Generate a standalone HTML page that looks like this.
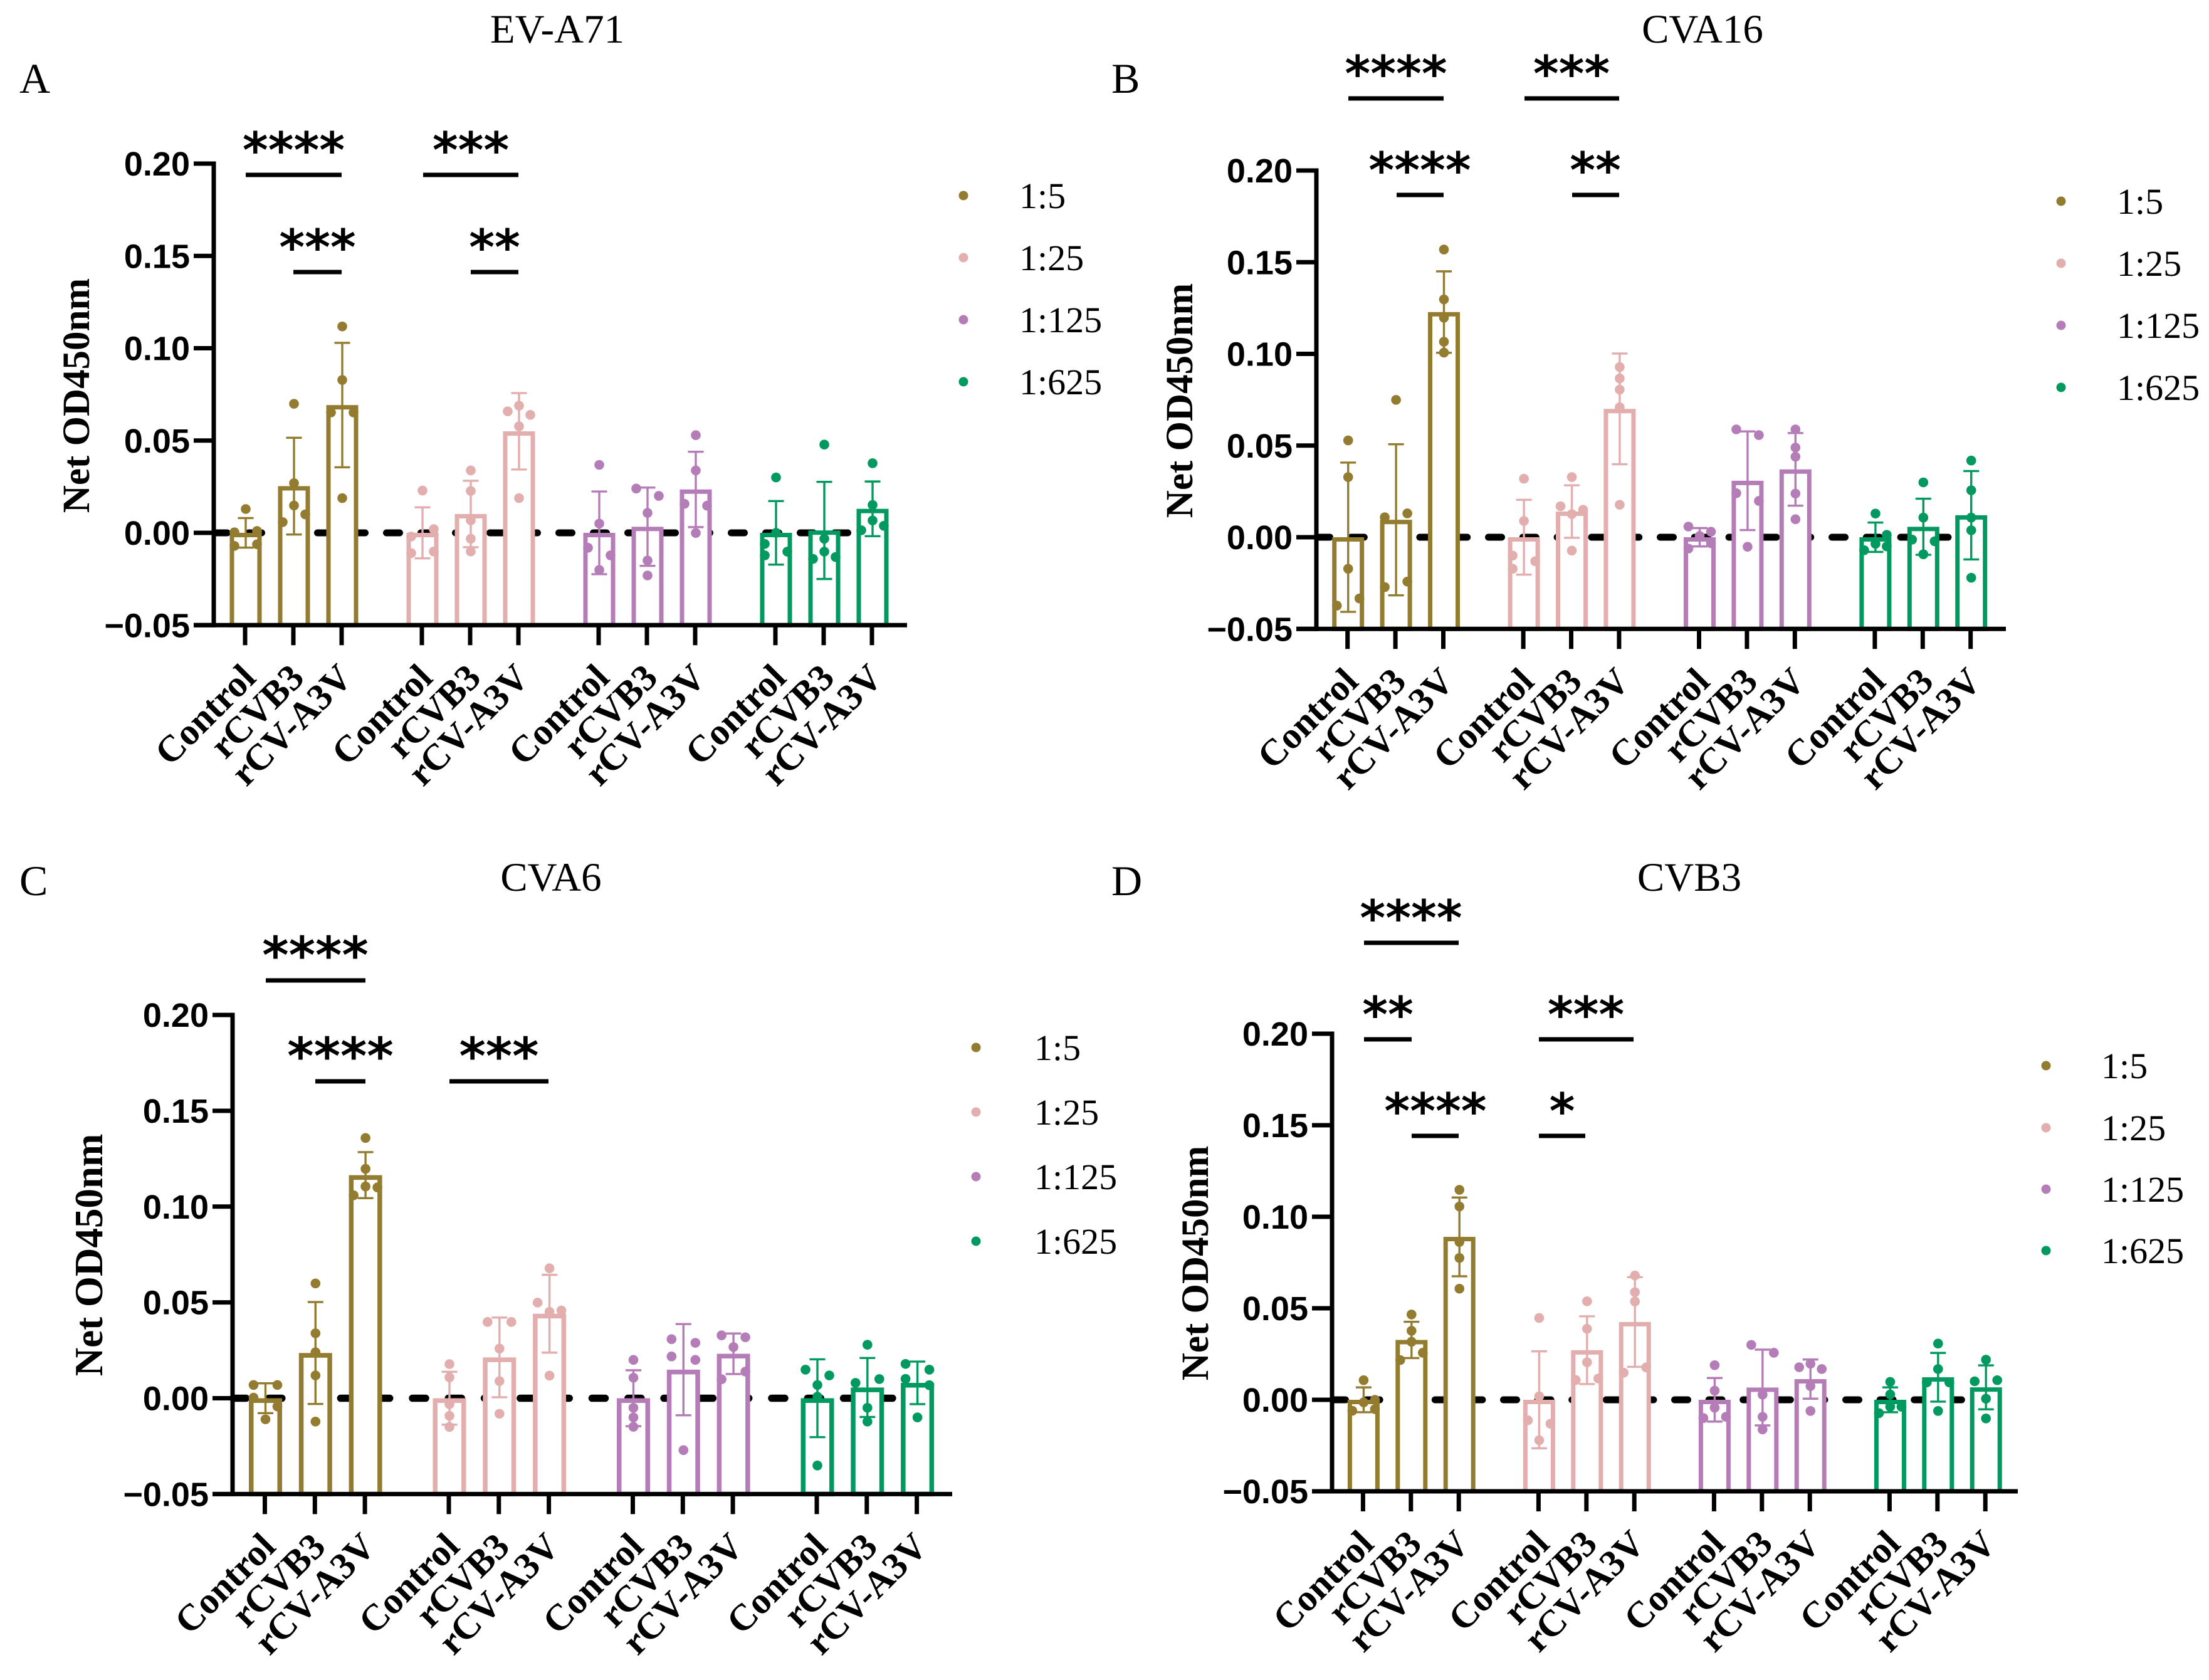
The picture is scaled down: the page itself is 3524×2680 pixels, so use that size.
<!DOCTYPE html>
<html lang="en">
<head>
<meta charset="utf-8">
<title>Net OD450nm by virus strain</title>
<style>
html,body{margin:0;padding:0;background:#fff;}
svg{display:block;}
.ttl{font-family:"Liberation Serif",serif;font-size:65px;text-anchor:middle;fill:#000;}
.ltr{font-family:"Liberation Serif",serif;font-size:68px;fill:#000;}
.yt{font-family:"Liberation Serif",serif;font-weight:bold;font-size:61px;text-anchor:middle;fill:#000;}
.lg{font-family:"Liberation Serif",serif;font-size:58px;fill:#000;}
.st{font-family:"DejaVu Sans",sans-serif;font-weight:bold;font-size:78px;text-anchor:middle;fill:#000;}
.sl{stroke:#000;stroke-width:7;}
.tk{font-family:"Liberation Sans",sans-serif;font-weight:bold;font-size:54px;text-anchor:end;fill:#000;}
.xl{font-family:"Liberation Serif",serif;font-weight:bold;font-size:59.5px;text-anchor:end;fill:#000;}
</style>
</head>
<body>
<svg id="chart" xmlns="http://www.w3.org/2000/svg" width="3524" height="2680" viewBox="0 0 3524 2680">
<rect x="0" y="0" width="3524" height="2680" fill="#fff"/>

<g id="panel-a">
<text class="ttl" x="889" y="68">EV-A71</text>
<text class="ltr" x="31" y="148">A</text>
<text class="yt" transform="translate(142,631) rotate(-90)">Net OD450nm</text>
<line class="sl" x1="392" x2="545" y1="279" y2="279"/><text class="st" x="468.5" y="267">****</text>
<line class="sl" x1="468" x2="545" y1="434" y2="434"/><text class="st" x="506.5" y="422">***</text>
<line class="sl" x1="675" x2="827" y1="279" y2="279"/><text class="st" x="751" y="267">***</text>
<line class="sl" x1="751" x2="827" y1="434" y2="434"/><text class="st" x="789" y="422">**</text>
<g>
<circle cx="1537" cy="312" r="7.5" fill="#937c2f"/><text class="lg" x="1626" y="332">1:5</text>
<circle cx="1537" cy="411" r="7.5" fill="#e3aeae"/><text class="lg" x="1626" y="431">1:25</text>
<circle cx="1537" cy="510" r="7.5" fill="#b57db8"/><text class="lg" x="1626" y="530">1:125</text>
<circle cx="1537" cy="609" r="7.5" fill="#00995f"/><text class="lg" x="1626" y="629">1:625</text>
</g>
</g>

<g id="panel-b">
<text class="ttl" x="2716" y="68">CVA16</text>
<text class="ltr" x="1773" y="148">B</text>
<text class="yt" transform="translate(1902,639) rotate(-90)">Net OD450nm</text>
<line class="sl" x1="2151" x2="2303" y1="157" y2="157"/><text class="st" x="2227" y="145">****</text>
<line class="sl" x1="2228" x2="2303" y1="311" y2="311"/><text class="st" x="2265" y="299">****</text>
<line class="sl" x1="2432" x2="2583" y1="157" y2="157"/><text class="st" x="2507" y="145">***</text>
<line class="sl" x1="2508" x2="2583" y1="311" y2="311"/><text class="st" x="2545" y="299">**</text>
<g>
<circle cx="3288" cy="321" r="7.5" fill="#937c2f"/><text class="lg" x="3377" y="341">1:5</text>
<circle cx="3288" cy="420" r="7.5" fill="#e3aeae"/><text class="lg" x="3377" y="440">1:25</text>
<circle cx="3288" cy="519" r="7.5" fill="#b57db8"/><text class="lg" x="3377" y="539">1:125</text>
<circle cx="3288" cy="618" r="7.5" fill="#00995f"/><text class="lg" x="3377" y="638">1:625</text>
</g>
</g>

<g id="panel-c">
<text class="ttl" x="879" y="1421">CVA6</text>
<text class="ltr" x="31" y="1428">C</text>
<text class="yt" style="font-size:63px" transform="translate(163,2002) rotate(-90)">Net OD450nm</text>
<line class="sl" x1="424" x2="583" y1="1564" y2="1564"/><text class="st" style="font-size:81px" x="503" y="1552">****</text>
<line class="sl" x1="503" x2="583" y1="1725" y2="1725"/><text class="st" style="font-size:81px" x="543" y="1713">****</text>
<line class="sl" x1="717" x2="875" y1="1725" y2="1725"/><text class="st" style="font-size:81px" x="796" y="1713">***</text>
<g>
<circle cx="1557" cy="1671" r="7.5" fill="#937c2f"/><text class="lg" x="1650" y="1691">1:5</text>
<circle cx="1557" cy="1774" r="7.5" fill="#e3aeae"/><text class="lg" x="1650" y="1794">1:25</text>
<circle cx="1557" cy="1877" r="7.5" fill="#b57db8"/><text class="lg" x="1650" y="1897">1:125</text>
<circle cx="1557" cy="1980" r="7.5" fill="#00995f"/><text class="lg" x="1650" y="2000">1:625</text>
</g>
</g>

<g id="panel-d">
<text class="ttl" x="2695" y="1421">CVB3</text>
<text class="ltr" x="1773" y="1428">D</text>
<text class="yt" transform="translate(1927,2015) rotate(-90)">Net OD450nm</text>
<line class="sl" x1="2176" x2="2327" y1="1504" y2="1504"/><text class="st" x="2251" y="1492">****</text>
<line class="sl" x1="2176" x2="2252" y1="1658" y2="1658"/><text class="st" x="2214" y="1646">**</text>
<line class="sl" x1="2455" x2="2606" y1="1658" y2="1658"/><text class="st" x="2530" y="1646">***</text>
<line class="sl" x1="2252" x2="2327" y1="1812" y2="1812"/><text class="st" x="2290" y="1800">****</text>
<line class="sl" x1="2455" x2="2529" y1="1812" y2="1812"/><text class="st" x="2492" y="1800">*</text>
<g>
<circle cx="3264" cy="1700" r="7.5" fill="#937c2f"/><text class="lg" x="3352" y="1720">1:5</text>
<circle cx="3264" cy="1799" r="7.5" fill="#e3aeae"/><text class="lg" x="3352" y="1819">1:25</text>
<circle cx="3264" cy="1897" r="7.5" fill="#b57db8"/><text class="lg" x="3352" y="1917">1:125</text>
<circle cx="3264" cy="1995" r="7.5" fill="#00995f"/><text class="lg" x="3352" y="2015">1:625</text>
</g>
</g>
</svg>

<script>
const categories = ['Control', 'rCVB3', 'rCV-A3V'];
const dilutionCount = 4;
const seriesColors = ['#937c2f', '#e3aeae', '#b57db8', '#00995f'];
const yTickValues = [-0.05, 0, 0.05, 0.10, 0.15, 0.20];
const yTickLabels = ['\u22120.05', '0.00', '0.05', '0.10', '0.15', '0.20'];
const referenceValue = 0;

/* bars run Control, rCVB3, rCV-A3V for 1:5, then 1:25, 1:125, 1:625 */
const meansA = [0, 0.0253, 0.0692, 0, 0.0102, 0.055, 0, 0.0033, 0.0235, 0, 0.0013, 0.013];
const sdsA = [0.008, 0.0262, 0.0337, 0.0138, 0.018, 0.0207, 0.0224, 0.0212, 0.0204, 0.0172, 0.0263, 0.0148];
const dotsA = [
 [0.0129, 0.0003, 0.001, -0.0071, -0.0062],
 [0.0699, 0.0269, 0.0148, 0.0058, 0.010],
 [0.1118, 0.0828, 0.0652, 0.0652, 0.0188],
 [0.0229, 0.002, -0.002, -0.011, -0.0101],
 [0.0338, 0.0227, 0.0068, -0.0032, -0.0101],
 [0.0689, 0.0658, 0.0639, 0.0577, 0.0188],
 [0.0368, 0.005, -0.0081, -0.0122, -0.0201],
 [0.024, 0.02, 0.0108, -0.015, -0.0231],
 [0.0529, 0.0338, 0.0157, 0.0147, -0.0001],
 [0.03, 0, -0.006, -0.0102, -0.0122],
 [0.0478, -0.0032, -0.0102, -0.0141, -0.0131],
 [0.0377, 0.0151, 0.0014, 0.0067, 0.0038]
];
const slotsA = [
 [0, -1, 1, -1, 1], [0, 0, 0, -1, 1], [0, 0, -1, 1, 0], [0, 1, -1, -1, 1],
 [0, 0, 0, 0, 0], [0, -1, 1, 0, 0], [0, 0, -1, 1, 0], [-1, 1, 0, 0, 0],
 [0, 0, -1, 1, 0], [0, 0, -1, 1, -1], [0, 0, 0, -1, 1], [0, 0, -1, 0, 1]
];

const meansB = [0, 0.0095, 0.1228, 0, 0.014, 0.07, 0, 0.0308, 0.037, 0, 0.0057, 0.012];
const sdsB = [0.0407, 0.0412, 0.0222, 0.0204, 0.0143, 0.0302, 0.005, 0.0269, 0.0198, 0.008, 0.0153, 0.0241];
const dotsB = [
 [0.0528, 0.0328, -0.0172, -0.0334, -0.0373],
 [0.0749, 0.013, 0.0109, -0.0242, -0.0272],
 [0.1569, 0.1297, 0.1197, 0.1066, 0.1007],
 [0.0319, 0.0089, -0.01, -0.0131, -0.0172],
 [0.0328, 0.0169, 0.015, 0.0126, -0.0073],
 [0.0928, 0.0866, 0.0805, 0.0709, 0.0177],
 [0.0058, 0.003, 0.0007, -0.0062, -0.0033],
 [0.0588, 0.0557, 0.024, 0.0198, -0.0052],
 [0.0588, 0.0489, 0.0439, 0.0238, 0.0098],
 [0.0129, 0.0013, -0.0036, -0.005, -0.0071],
 [0.0299, 0.0107, -0.0013, -0.0022, -0.0093],
 [0.0418, 0.0256, 0.0107, 0.0038, -0.0221]
];
const slotsB = [
 [0, 0, 0, 1, -1], [0, 1, -1, 1, -1], [0, 0, 0, 0, 0], [0, 0, -1, 1, -1],
 [0, -1, 1, 0, 0], [0, 0, 0, 0, 0], [-1, 1, 0, -1, 1], [-1, 1, -1, 1, 0],
 [0, 0, 0, 0, 0], [0, 1, 0, 1, -1], [0, 0, -1, 1, 0], [0, 0, 0, 0, 0]
];

const meansC = [0, 0.0236, 0.1164, 0, 0.0213, 0.0441, 0, 0.0149, 0.0232, 0, 0.0056, 0.008];
const sdsC = [0.0078, 0.0266, 0.012, 0.0138, 0.0208, 0.0203, 0.0146, 0.0238, 0.0106, 0.0203, 0.0154, 0.0111];
const dotsC = [
 [0.0069, 0.0069, 0.0003, -0.0043, -0.011],
 [0.0599, 0.0339, 0.024, 0.0119, -0.0122],
 [0.1358, 0.1197, 0.1105, 0.11, 0.1059],
 [0.0178, 0.0109, -0.0031, -0.0092, -0.015],
 [0.0398, 0.0398, 0.0259, 0.0089, -0.0081],
 [0.0678, 0.0499, 0.0451, 0.0458, 0.0118],
 [0.02, 0.0107, -0.005, -0.01, -0.0149],
 [0.0308, 0.0289, 0.0218, 0.02, -0.0271],
 [0.0328, 0.0318, 0.0267, 0.0139, 0.0099],
 [0.0149, 0.0119, 0.0069, 0.0008, -0.0351],
 [0.0279, 0.01, 0.008, -0.005, -0.0122],
 [0.0179, 0.0149, 0.0101, 0.0068, -0.01]
];
const slotsC = [
 [-1, 1, -1, 1, 0], [0, 0, 0, 0, 0], [0, 0, 0, 1, -1], [0, 0, 0, 0, 0],
 [-1, 1, 0, 0, 0], [0, -1, 0, 1, 0], [0, 0, 0, 0, 0], [-1, 1, -1, 1, 0],
 [-1, 1, 0, 1, -1], [-1, 1, 0, 0, 0], [0, 1, -1, 0, 0], [-1, 1, -1, 1, 0]
];

const meansD = [0, 0.0327, 0.089, 0, 0.0271, 0.0425, 0, 0.0067, 0.0113, 0, 0.0123, 0.0068];
const sdsD = [0.0068, 0.0099, 0.0215, 0.0265, 0.0185, 0.0245, 0.0119, 0.0207, 0.0107, 0.0068, 0.0133, 0.012];
const dotsD = [
 [0.0107, 0, -0.0014, -0.0051, -0.006],
 [0.0466, 0.0377, 0.0317, 0.0257, 0.0217],
 [0.1147, 0.1056, 0.0862, 0.0775, 0.0607],
 [0.0447, 0.0019, -0.0112, -0.0131, -0.0221],
 [0.0538, 0.0388, 0.0205, 0.0116, 0.0108],
 [0.0679, 0.0588, 0.0537, 0.0177, 0.0148],
 [0.0189, 0.005, -0.0043, -0.0093, -0.01],
 [0.03, 0.0257, 0.0028, -0.0093, -0.0162],
 [0.0197, 0.0178, 0.0168, 0.0075, -0.0061],
 [0.0098, 0.0029, -0.0038, -0.0038, -0.0073],
 [0.0307, 0.0168, 0.0095, 0.0095, -0.0061],
 [0.0219, 0.0101, 0.0107, 0.0006, -0.0102]
];
const slotsD = [
 [0, 1, 0, 1, -1], [0, 0, 0, 1, -1], [0, 0, 0, 0, 0], [0, 0, -1, 1, 0],
 [0, 0, 0, 1, -1], [0, 0, 0, 1, -1], [0, 0, 0, 1, -1], [-1, 1, 0, 0, 0],
 [0, -1, 1, 0, 0], [0, 0, 1, 0, -1], [0, 0, -1, 1, 0], [0, -1, 1, 0, 0]
];

const SVG_NS = 'http://www.w3.org/2000/svg';

function mk(tag, attrs, parent) {
  const node = document.createElementNS(SVG_NS, tag);
  for (const key in attrs) node.setAttribute(key, attrs[key]);
  parent.appendChild(node);
  return node;
}

function drawPanel(cfg, means, sds, dots, slots) {
  const root = document.getElementById(cfg.id);
  const yScale = v => cfg.y0 - cfg.k * v;
  const yBase = yScale(yTickValues[0]);
  const xScale = i => cfg.x0 + cfg.dx * (i % categories.length) + cfg.group * Math.floor(i / categories.length);
  const markX = i => xScale(i) + 1;
  const barCount = categories.length * dilutionCount;

  const refX1 = cfg.ax + 0.5;
  const refEl = mk('line', {
    x1: refX1, x2: refX1 + 18 * cfg.period + 21,
    y1: yScale(referenceValue), y2: yScale(referenceValue),
    stroke: '#000', 'stroke-width': cfg.dashW, 'stroke-linecap': 'round',
    'stroke-dasharray': '21 ' + (cfg.period - 21)
  }, root);
  
  

  for (let i = 0; i < barCount; i++) {
    const color = seriesColors[Math.floor(i / categories.length)];
    const cx = markX(i);
    const top = yScale(means[i]);

    const bar = mk('rect', {
      x: cx - cfg.barW / 2 + cfg.sw / 2,
      y: top + cfg.sw / 2,
      width: cfg.barW - cfg.sw,
      height: Math.max(0, yBase - top - cfg.sw / 2),
      fill: '#fff', stroke: color, 'stroke-width': cfg.sw
    }, root);
    
    

    const hi = yScale(means[i] + sds[i]);
    const lo = yScale(means[i] - sds[i]);
    const stem = mk('line', { x1: cx, x2: cx, y1: hi, y2: lo, stroke: color, 'stroke-width': 3.4 }, root);
    
    
    const capTop = mk('line', { x1: cx - 12.5, x2: cx + 12.5, y1: hi, y2: hi, stroke: color, 'stroke-width': 3.4 }, root);
    
    
    const capLow = mk('line', { x1: cx - 12.5, x2: cx + 12.5, y1: lo, y2: lo, stroke: color, 'stroke-width': 3.4 }, root);
    
    

    dots[i].forEach((v, j) => {
      const dot = mk('circle', { cx: cx + slots[i][j] * cfg.jit, cy: yScale(v), r: 7.8, fill: color }, root);
      
      
    });
  }

  const yAxis = mk('line', {
    x1: cfg.ax, x2: cfg.ax, y1: yScale(yTickValues[yTickValues.length - 1]) - 3.5, y2: yBase + 3.5,
    stroke: '#000', 'stroke-width': 7
  }, root);
  
  

  const xAxis = mk('line', {
    x1: cfg.ax - 32, x2: cfg.xEnd, y1: yBase, y2: yBase, stroke: '#000', 'stroke-width': 7
  }, root);
  
  

  yTickValues.forEach((v, j) => {
    const tick = mk('line', { x1: cfg.ax - 32, x2: cfg.ax, y1: yScale(v), y2: yScale(v), stroke: '#000', 'stroke-width': 7 }, root);
    
    
    const label = mk('text', { class: 'tk', x: cfg.ax - 38, y: yScale(v) + 19 }, root);
    
    
    label.textContent = yTickLabels[j];
  });

  for (let i = 0; i < barCount; i++) {
    const tx = xScale(i);
    const tick = mk('line', { x1: tx, x2: tx, y1: yBase, y2: yBase + 32, stroke: '#000', 'stroke-width': 7 }, root);
    
    
    const label = mk('text', {
      class: 'xl',
      transform: 'translate(' + (tx + 20) + ',' + (yBase + 87) + ') rotate(-45)'
    }, root);
    
    
    label.textContent = categories[i % categories.length];
  }
}

drawPanel({ id: 'panel-a', ax: 341, x0: 391, dx: 77, group: 282, y0: 850, k: 2945, xEnd: 1447, barW: 51, sw: 7, jit: 18, period: 55, dashW: 11 }, meansA, sdsA, dotsA, slotsA);
drawPanel({ id: 'panel-b', ax: 2100, x0: 2149.7, dx: 76.4, group: 280.4, y0: 857, k: 2925, xEnd: 3200, barW: 51, sw: 7, jit: 18, period: 54.8, dashW: 11 }, meansB, sdsB, dotsB, slotsB);
drawPanel({ id: 'panel-c', ax: 371, x0: 422.5, dx: 79.8, group: 293.5, y0: 2230.5, k: 3057, xEnd: 1519, barW: 53, sw: 7.5, jit: 19, period: 57.3, dashW: 11.5 }, meansC, sdsC, dotsC, slotsC);
drawPanel({ id: 'panel-d', ax: 2125, x0: 2174.4, dx: 76.4, group: 280, y0: 2233, k: 2920, xEnd: 3219, barW: 51, sw: 7, jit: 18, period: 54.6, dashW: 11 }, meansD, sdsD, dotsD, slotsD);
</script>
</body>
</html>
